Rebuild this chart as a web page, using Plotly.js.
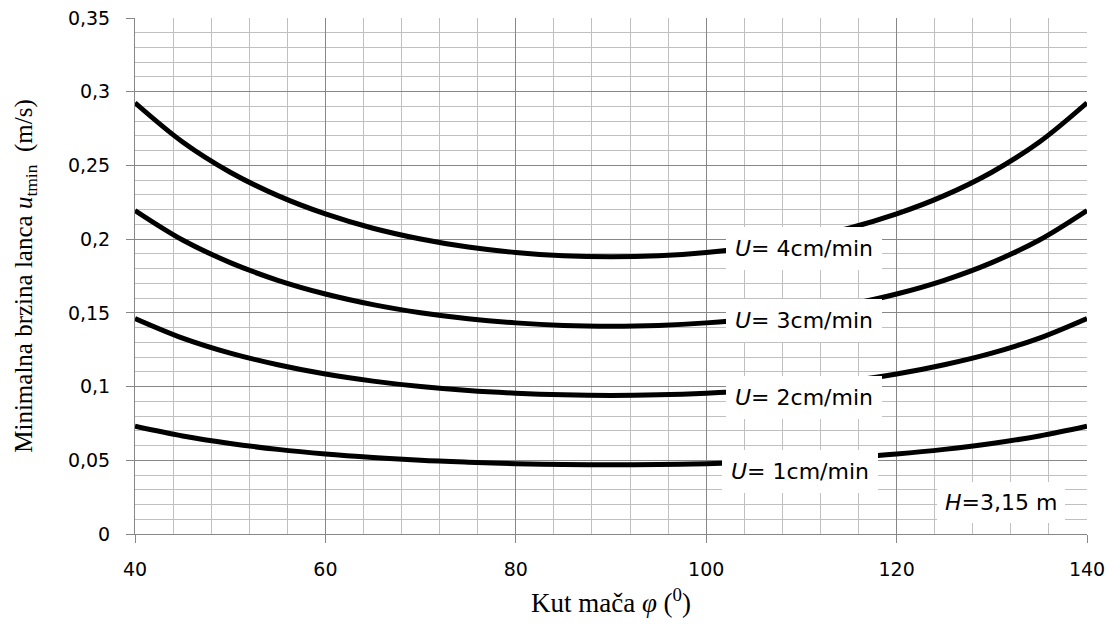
<!DOCTYPE html>
<html>
<head>
<meta charset="utf-8">
<script src="https://cdn.plot.ly/plotly-3.0.1.min.js"></script>
<style>html,body{margin:0;padding:0;background:#fff;}#chart{width:1112px;height:625px;}</style>
</head>
<body>
<div id="chart"></div>
<script>
// Angle of the chain bar (degrees)
const phi = [40, 45, 50, 55, 60, 65, 70, 75, 80, 85, 90, 95, 100, 105, 110, 115, 120, 125, 130, 135, 140];
// Minimum chain speed (m/s) for each feed speed U
const u1 = [0.0731, 0.0665, 0.0614, 0.0574, 0.0543, 0.0519, 0.0500, 0.0487, 0.0477, 0.0472, 0.0470, 0.0472, 0.0477, 0.0487, 0.0500, 0.0519, 0.0543, 0.0574, 0.0614, 0.0665, 0.0731];
const u2 = [0.1462, 0.1329, 0.1227, 0.1148, 0.1085, 0.1037, 0.1000, 0.0973, 0.0955, 0.0944, 0.0940, 0.0944, 0.0955, 0.0973, 0.1000, 0.1037, 0.1085, 0.1148, 0.1227, 0.1329, 0.1462];
const u3 = [0.2194, 0.1994, 0.1841, 0.1721, 0.1628, 0.1556, 0.1501, 0.1460, 0.1432, 0.1415, 0.1410, 0.1415, 0.1432, 0.1460, 0.1501, 0.1556, 0.1628, 0.1721, 0.1841, 0.1994, 0.2194];
const u4 = [0.2925, 0.2659, 0.2454, 0.2295, 0.2171, 0.2074, 0.2001, 0.1946, 0.1909, 0.1887, 0.1880, 0.1887, 0.1909, 0.1946, 0.2001, 0.2074, 0.2171, 0.2295, 0.2454, 0.2659, 0.2925];
const seriesNames = ["U= 1cm/min", "U= 2cm/min", "U= 3cm/min", "U= 4cm/min"];
const labelTexts = ["<i>U</i>= 1cm/min", "<i>U</i>= 2cm/min", "<i>U</i>= 3cm/min", "<i>U</i>= 4cm/min"];
const labelX = [109.9, 110.3, 110.3, 110.3];
const labelY = [0.0425, 0.0925, 0.1445, 0.1935];
const noteText = "<i>H</i>=3,15 m";

const all = [u1, u2, u3, u4];
const traces = all.map((ys, i) => ({
  x: phi, y: ys, type: 'scatter', mode: 'lines', name: seriesNames[i],
  line: {color: '#000', width: 5, shape: 'spline', smoothing: 1}, hoverinfo: 'skip'
}));

const tickFont = {family: '"DejaVu Sans", sans-serif', size: 19, color: '#000'};
const annFont = {family: '"DejaVu Sans", sans-serif', size: 22, color: '#000'};
const titleFontFamily = '"Liberation Serif", "Times New Roman", serif';

const annotations = labelTexts.map((t, i) => ({
  x: labelX[i], y: labelY[i], xref: 'x', yref: 'y', text: t, showarrow: false,
  font: annFont, bgcolor: '#fff', borderpad: 9, borderwidth: 0
}));
annotations.push({x: 131.0, y: 0.0215, xref: 'x', yref: 'y', text: noteText, showarrow: false,
  font: annFont, bgcolor: '#fff', borderpad: 8, borderwidth: 0});

const layout = {
  width: 1112, height: 625,
  margin: {l: 135, r: 25, t: 18, b: 91},
  paper_bgcolor: '#fff', plot_bgcolor: '#fff',
  showlegend: false,
  separators: ', ',
  xaxis: {
    range: [40, 140], dtick: 20, tick0: 40,
    showgrid: true, gridcolor: '#878787', gridwidth: 1,
    minor: {dtick: 4, showgrid: true, gridcolor: '#c0c0c0', gridwidth: 1, ticks: ''},
    ticks: 'outside', ticklen: 8, tickcolor: '#878787',
    ticklabelstandoff: 10,
    showline: true, linecolor: '#878787', linewidth: 1, zeroline: false,
    tickfont: tickFont,
    title: {text: 'Kut mača <i>φ</i> (<sup>0</sup>)', font: {family: titleFontFamily, size: 27, color: '#000'}, standoff: 14}
  },
  yaxis: {
    range: [0, 0.35], dtick: 0.05, tick0: 0,
    showgrid: true, gridcolor: '#878787', gridwidth: 1,
    minor: {dtick: 0.01, showgrid: true, gridcolor: '#c0c0c0', gridwidth: 1, ticks: ''},
    ticks: 'outside', ticklen: 8, tickcolor: '#878787',
    ticklabelstandoff: 12,
    showline: true, linecolor: '#878787', linewidth: 1, zeroline: false,
    tickfont: tickFont,
    title: {text: 'Minimalna brzina lanca <i>u</i><sub>tmin</sub>  (m/s)', font: {family: titleFontFamily, size: 25, color: '#000'}, standoff: 28}
  },
  annotations: annotations
};

Plotly.newPlot('chart', traces, layout, {displayModeBar: false, staticPlot: true});
</script>
</body>
</html>
